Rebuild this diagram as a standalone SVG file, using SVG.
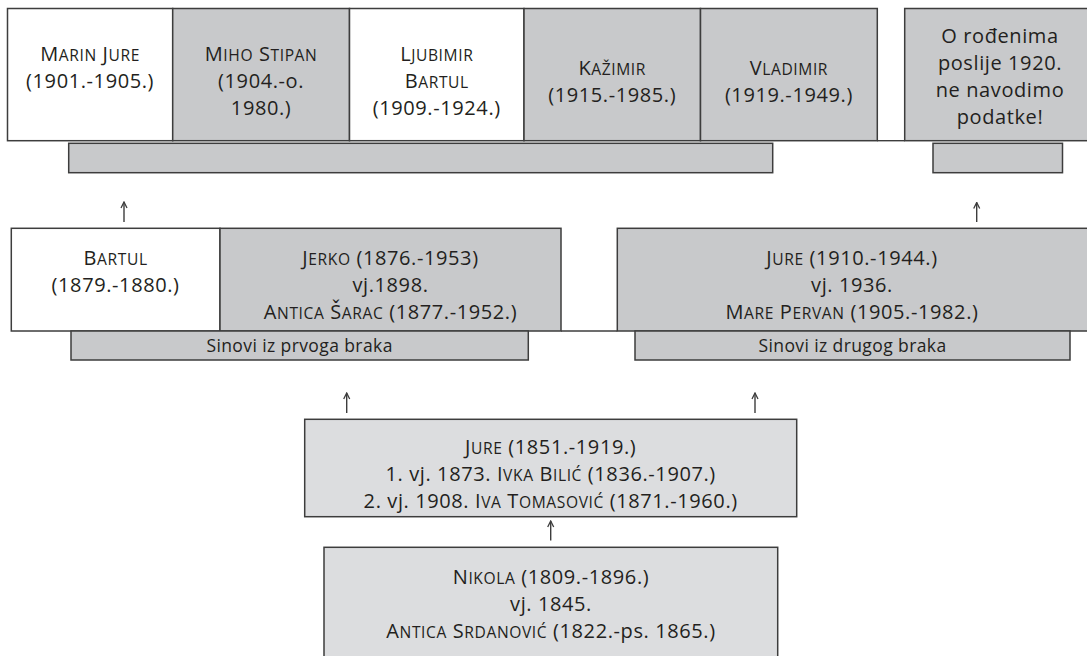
<svg xmlns="http://www.w3.org/2000/svg" width="1087" height="656" viewBox="0 0 1087 656">
<style>
.box{stroke:#3d3d3d;stroke-width:1.5}
.w{fill:#ffffff}
.g{fill:#c8c9cb}
.l{fill:#dcdddf}
text{font-family:"Open Sans","Noto Sans","Liberation Sans",sans-serif;font-size:20px;letter-spacing:0.6px;fill:#231f20;text-anchor:middle}
.sc{font-size:15.6px}
text.lab{font-size:17.5px;letter-spacing:0.4px}
.con{stroke:#3d3d3d;stroke-width:1.4;fill:none}
</style>
<defs>
<marker id="ah" viewBox="0 0 8 8" markerWidth="8" markerHeight="8" refX="7" refY="4" orient="auto" markerUnits="userSpaceOnUse">
<path d="M1,1 L7,4 L1,7" fill="none" stroke="#3d3d3d" stroke-width="1.3"/>
</marker>
</defs>

<g id="marin">
<rect class="box w" x="7.5" y="8.5" width="165.2" height="132.2"/>
<text x="90.1" y="61">M<tspan class="sc">ARIN</tspan> J<tspan class="sc">URE</tspan></text>
<text x="90.1" y="88">(1901.-1905.)</text>
</g>
<g id="miho">
<rect class="box g" x="172.7" y="8.5" width="176.8" height="132.2"/>
<text x="261.1" y="61">M<tspan class="sc">IHO</tspan> S<tspan class="sc">TIPAN</tspan></text>
<text x="261.1" y="88">(1904.-o.</text>
<text x="261.1" y="115">1980.)</text>
</g>
<g id="ljubimir">
<rect class="box w" x="349.5" y="8.5" width="174.5" height="132.2"/>
<text x="436.75" y="61">L<tspan class="sc">JUBIMIR</tspan></text>
<text x="436.75" y="88">B<tspan class="sc">ARTUL</tspan></text>
<text x="436.75" y="115">(1909.-1924.)</text>
</g>
<g id="kazimir">
<rect class="box g" x="524" y="8.5" width="176.5" height="132.2"/>
<text x="612.2" y="75">K<tspan class="sc">AŽIMIR</tspan></text>
<text x="612.2" y="102">(1915.-1985.)</text>
</g>
<g id="vladimir">
<rect class="box g" x="700.5" y="8.5" width="176.8" height="132.2"/>
<text x="788.9" y="75">V<tspan class="sc">LADIMIR</tspan></text>
<text x="788.9" y="102">(1919.-1949.)</text>
</g>
<g id="napomena">
<rect class="box g" x="904.7" y="8.5" width="190" height="132.2"/>
<text x="1000" y="42.5">O rođenima</text>
<text x="1000" y="69.5">poslije 1920.</text>
<text x="1000" y="96.5">ne navodimo</text>
<text x="1000" y="123.5">podatke!</text>
</g>
<g id="bar-top">
<rect class="box g" x="68.7" y="143.3" width="704" height="29.4"/>
</g>
<g id="bar-top-right">
<rect class="box g" x="933" y="143.3" width="129.5" height="29.4"/>
</g>

<g id="bartul">
<rect class="box w" x="11.3" y="228.3" width="208.7" height="102.7"/>
<text x="115.6" y="265">B<tspan class="sc">ARTUL</tspan></text>
<text x="115.6" y="292">(1879.-1880.)</text>
</g>
<g id="jerko">
<rect class="box g" x="220" y="228.3" width="341" height="102.7"/>
<text x="390.5" y="265">J<tspan class="sc">ERKO</tspan> (1876.-1953)</text>
<text x="390.5" y="292">vj.1898.</text>
<text x="390.5" y="319">A<tspan class="sc">NTICA</tspan> Š<tspan class="sc">ARAC</tspan> (1877.-1952.)</text>
</g>
<g id="jure2">
<rect class="box g" x="617.3" y="228.3" width="473" height="102.7"/>
<text x="852" y="265">J<tspan class="sc">URE</tspan> (1910.-1944.)</text>
<text x="852" y="292">vj. 1936.</text>
<text x="852" y="319">M<tspan class="sc">ARE</tspan> P<tspan class="sc">ERVAN</tspan> (1905.-1982.)</text>
</g>
<g id="sinovi1">
<rect class="box g" x="71" y="331" width="457.3" height="29"/>
<text class="lab" x="299.6" y="352">Sinovi iz prvoga braka</text>
</g>
<g id="sinovi2">
<rect class="box g" x="635" y="331" width="435" height="29"/>
<text class="lab" x="852.5" y="352">Sinovi iz drugog braka</text>
</g>

<g id="jure1">
<rect class="box l" x="304.7" y="419.3" width="492" height="97.4"/>
<text x="550.7" y="454">J<tspan class="sc">URE</tspan> (1851.-1919.)</text>
<text x="550.7" y="481">1. vj. 1873. I<tspan class="sc">VKA</tspan> B<tspan class="sc">ILIĆ</tspan> (1836.-1907.)</text>
<text x="550.7" y="508">2. vj. 1908. I<tspan class="sc">VA</tspan> T<tspan class="sc">OMASOVIĆ</tspan> (1871.-1960.)</text>
</g>
<g id="nikola">
<rect class="box l" x="324" y="547.3" width="453.7" height="120"/>
<text x="551" y="584">N<tspan class="sc">IKOLA</tspan> (1809.-1896.)</text>
<text x="551" y="611">vj. 1845.</text>
<text x="551" y="638">A<tspan class="sc">NTICA</tspan> S<tspan class="sc">RDANOVIĆ</tspan> (1822.-ps. 1865.)</text>
</g>

<g id="connectors">
<line class="con" x1="877.3" y1="140.7" x2="904.7" y2="140.7"/>
<line class="con" x1="561" y1="331" x2="617.3" y2="331"/>
<line class="con" x1="124" y1="222" x2="124" y2="202" marker-end="url(#ah)"/>
<line class="con" x1="976.7" y1="222" x2="976.7" y2="202.5" marker-end="url(#ah)"/>
<line class="con" x1="346.7" y1="413" x2="346.7" y2="393" marker-end="url(#ah)"/>
<line class="con" x1="755" y1="413" x2="755" y2="393" marker-end="url(#ah)"/>
<line class="con" x1="550.7" y1="540.5" x2="550.7" y2="521" marker-end="url(#ah)"/>
</g>
</svg>
